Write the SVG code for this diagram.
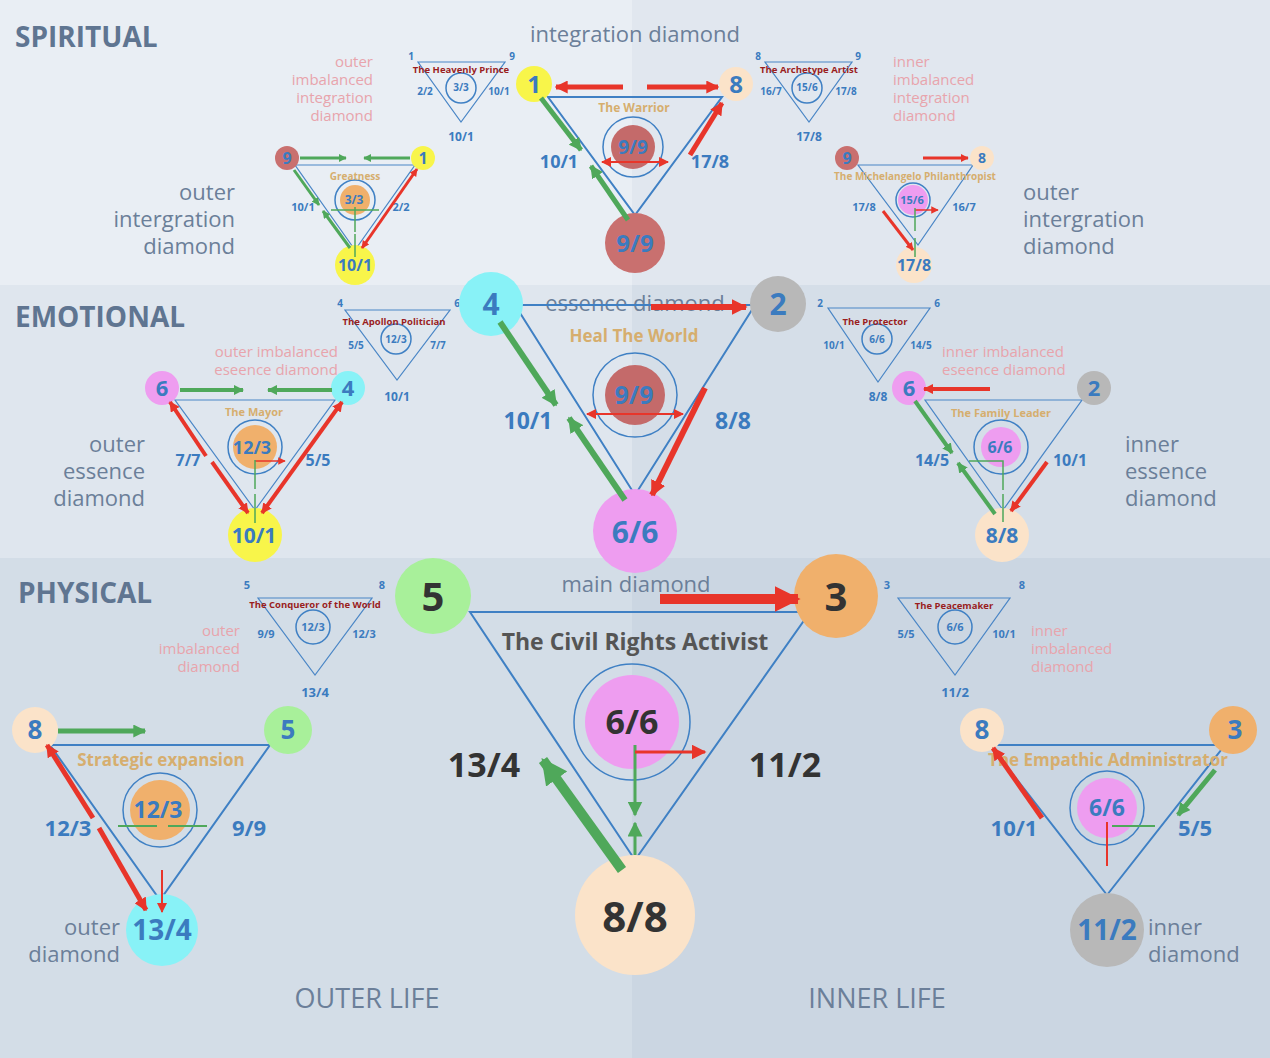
<svg xmlns="http://www.w3.org/2000/svg" width="1270" height="1058" viewBox="0 0 1270 1058">
<defs>
<marker id="ar" viewBox="0 0 10 10" refX="9" refY="5" markerWidth="2.6" markerHeight="2.6" orient="auto-start-reverse"><path d="M0 0L10 5L0 10z" fill="#e8352a"/></marker>
<marker id="ag" viewBox="0 0 10 10" refX="9" refY="5" markerWidth="2.6" markerHeight="2.6" orient="auto-start-reverse"><path d="M0 0L10 5L0 10z" fill="#4fa85a"/></marker>
<marker id="ar2" viewBox="0 0 10 10" refX="9" refY="5" markerWidth="5" markerHeight="5" orient="auto-start-reverse"><path d="M0 0L10 5L0 10z" fill="#e8352a"/></marker>
<marker id="ag2" viewBox="0 0 10 10" refX="9" refY="5" markerWidth="5" markerHeight="5" orient="auto-start-reverse"><path d="M0 0L10 5L0 10z" fill="#4fa85a"/></marker>
<style>
text{font-family:"Open Sans","Noto Sans",sans-serif}
.tri{fill:none;stroke:#3f80c4;stroke-width:2}
.tris{fill:none;stroke:#4a86c6;stroke-width:1.2}
.ring{fill:none;stroke:#3f80c4;stroke-width:1.5}
.n{fill:#3b7bbf;font-weight:bold;text-anchor:middle}
.nd{fill:#333;font-weight:bold;text-anchor:middle}
.t{fill:#d6ae6e;font-weight:bold;text-anchor:middle}
.pt{fill:#9a1e1e;font-weight:bold;text-anchor:middle;font-size:9.5px}
.g{fill:#6b7f99}
.sec{fill:#5f7591;font-weight:bold;font-size:28px}
.pk{fill:#e8a4ac;font-size:15px}
.r{stroke:#e8352a;fill:none}
.gr{stroke:#4fa85a;fill:none}
</style>
</defs>
<rect x="0" y="0" width="632" height="285" fill="#e9eef4"/>
<rect x="632" y="0" width="638" height="285" fill="#e1e7ef"/>
<rect x="0" y="285" width="632" height="273" fill="#dfe6ee"/>
<rect x="632" y="285" width="638" height="273" fill="#d5dee8"/>
<rect x="0" y="558" width="632" height="500" fill="#d3dde7"/>
<rect x="632" y="558" width="638" height="500" fill="#cbd6e2"/>

<g id="labels">
<text class="sec" x="15" y="47">SPIRITUAL</text>
<text class="sec" x="15" y="327">EMOTIONAL</text>
<text class="sec" x="18" y="603">PHYSICAL</text>
<text class="g" x="635" y="42" font-size="22" text-anchor="middle">integration diamond</text>
<text class="g" x="635" y="311" font-size="22" text-anchor="middle">essence diamond</text>
<text class="g" x="636" y="592" font-size="22" text-anchor="middle">main diamond</text>
<text class="g" font-size="22" text-anchor="end"><tspan x="235" y="200">outer</tspan><tspan x="235" y="227">intergration</tspan><tspan x="235" y="254">diamond</tspan></text>
<text class="g" font-size="22"><tspan x="1023" y="200">outer</tspan><tspan x="1023" y="227">intergration</tspan><tspan x="1023" y="254">diamond</tspan></text>
<text class="g" font-size="22" text-anchor="end"><tspan x="145" y="452">outer</tspan><tspan x="145" y="479">essence</tspan><tspan x="145" y="506">diamond</tspan></text>
<text class="g" font-size="22"><tspan x="1125" y="452">inner</tspan><tspan x="1125" y="479">essence</tspan><tspan x="1125" y="506">diamond</tspan></text>
<text class="g" font-size="22" text-anchor="end"><tspan x="120" y="935">outer</tspan><tspan x="120" y="962">diamond</tspan></text>
<text class="g" font-size="22"><tspan x="1148" y="935">inner</tspan><tspan x="1148" y="962">diamond</tspan></text>
<text class="g" x="367" y="1008" font-size="27" text-anchor="middle">OUTER LIFE</text>
<text class="g" x="877" y="1008" font-size="27" text-anchor="middle">INNER LIFE</text>
<text class="pk" text-anchor="end"><tspan x="373" y="67">outer</tspan><tspan x="373" y="85">imbalanced</tspan><tspan x="373" y="103">integration</tspan><tspan x="373" y="121">diamond</tspan></text>
<text class="pk"><tspan x="893" y="67">inner</tspan><tspan x="893" y="85">imbalanced</tspan><tspan x="893" y="103">integration</tspan><tspan x="893" y="121">diamond</tspan></text>
<text class="pk" text-anchor="end"><tspan x="338" y="357">outer imbalanced</tspan><tspan x="338" y="375">eseence diamond</tspan></text>
<text class="pk"><tspan x="942" y="357">inner imbalanced</tspan><tspan x="942" y="375">eseence diamond</tspan></text>
<text class="pk" text-anchor="end"><tspan x="240" y="636">outer</tspan><tspan x="240" y="654">imbalanced</tspan><tspan x="240" y="672">diamond</tspan></text>
<text class="pk"><tspan x="1031" y="636">inner</tspan><tspan x="1031" y="654">imbalanced</tspan><tspan x="1031" y="672">diamond</tspan></text>
</g>

<!-- small imbalanced diagrams -->
<g id="heavenly-prince"><path class="tris" d="M418 62H505L461 122Z"/><circle class="ring" cx="461" cy="88" r="15"/><text class="pt" x="461" y="73">The Heavenly Prince</text>
<g class="n" font-size="10"><text x="411" y="60">1</text><text x="512" y="60">9</text><text x="425" y="95">2/2</text><text x="499" y="95">10/1</text><text x="461" y="91">3/3</text><text x="461" y="141" font-size="12">10/1</text></g></g>
<g id="archetype-artist"><path class="tris" d="M765 62H852L809 122Z"/><circle class="ring" cx="807" cy="88" r="15"/><text class="pt" x="809" y="73">The Archetype Artist</text>
<g class="n" font-size="10"><text x="758" y="60">8</text><text x="858" y="60">9</text><text x="771" y="95">16/7</text><text x="846" y="95">17/8</text><text x="807" y="91">15/6</text><text x="809" y="141" font-size="12">17/8</text></g></g>
<g id="apollon"><path class="tris" d="M345 310H450L397 380Z"/><circle class="ring" cx="396" cy="339" r="15"/><text class="pt" x="394" y="325">The Apollon Politician</text>
<g class="n" font-size="10"><text x="340" y="307">4</text><text x="457" y="307">6</text><text x="356" y="349">5/5</text><text x="438" y="349">7/7</text><text x="396" y="343">12/3</text><text x="397" y="401" font-size="12">10/1</text></g></g>
<g id="protector"><path class="tris" d="M828 308H930L878 382Z"/><circle class="ring" cx="877" cy="339" r="15"/><text class="pt" x="875" y="325">The Protector</text>
<g class="n" font-size="10"><text x="820" y="307">2</text><text x="937" y="307">6</text><text x="834" y="349">10/1</text><text x="921" y="349">14/5</text><text x="877" y="343">6/6</text><text x="878" y="401" font-size="12">8/8</text></g></g>
<g id="conqueror"><path class="tris" d="M258 598H372L315 675Z"/><circle class="ring" cx="313" cy="627" r="17"/><text class="pt" x="315" y="608">The Conqueror of the World</text>
<g class="n" font-size="11"><text x="247" y="589">5</text><text x="382" y="589">8</text><text x="266" y="638">9/9</text><text x="364" y="638">12/3</text><text x="313" y="631">12/3</text><text x="315" y="697" font-size="13">13/4</text></g></g>
<g id="peacemaker"><path class="tris" d="M898 598H1010L955 675Z"/><circle class="ring" cx="955" cy="627" r="17"/><text class="pt" x="954" y="609">The Peacemaker</text>
<g class="n" font-size="11"><text x="887" y="589">3</text><text x="1022" y="589">8</text><text x="906" y="638">5/5</text><text x="1004" y="638">10/1</text><text x="955" y="631">6/6</text><text x="955" y="697" font-size="13">11/2</text></g></g>

<!-- Warrior -->
<g id="warrior">
<path class="tri" d="M548 97H722L635 215Z"/>
<circle cx="633" cy="147" r="30" class="ring"/><circle cx="633" cy="147" r="22" fill="#c46a6a"/>
<text class="t" x="634" y="112" font-size="12">The Warrior</text>
<circle cx="534" cy="84" r="18" fill="#f8f54a"/><text class="n" x="534" y="93" font-size="24">1</text>
<circle cx="736" cy="84" r="17" fill="#fbe3c9"/><text class="n" x="736" y="93" font-size="24">8</text>
<circle cx="635" cy="243" r="30" fill="#c9706f"/><text class="n" x="635" y="252" font-size="24">9/9</text>
<text class="n" x="633" y="154" font-size="19">9/9</text>
<text class="n" x="559" y="168" font-size="18">10/1</text><text class="n" x="710" y="168" font-size="18">17/8</text>
</g>
<!-- Greatness -->
<g id="greatness">
<path class="tris" d="M295 165H415L355 250Z"/>
<circle cx="355" cy="200" r="20" class="ring"/><circle cx="355" cy="200" r="15" fill="#f0b06c"/>
<text class="t" x="355" y="180" font-size="10">Greatness</text>
<circle cx="287" cy="158" r="12" fill="#c9706f"/><text class="n" x="287" y="164" font-size="16">9</text>
<circle cx="423" cy="158" r="12" fill="#f8f54a"/><text class="n" x="423" y="164" font-size="16">1</text>
<circle cx="355" cy="265" r="20" fill="#f8f54a"/><text class="n" x="355" y="271" font-size="16">10/1</text>
<text class="n" x="354" y="204" font-size="12">3/3</text>
<text class="n" x="303" y="211" font-size="11">10/1</text><text class="n" x="401" y="211" font-size="11">2/2</text>
</g>
<!-- Michelangelo -->
<g id="michelangelo">
<path class="tris" d="M858 165H973L918 245Z"/>
<circle cx="913" cy="200" r="17" class="ring"/><circle cx="913" cy="200" r="15" fill="#ee9df0"/>
<text class="t" x="915" y="180" font-size="10">The Michelangelo Philanthropist</text>
<circle cx="847" cy="158" r="12" fill="#c9706f"/><text class="n" x="847" y="164" font-size="16">9</text>
<circle cx="982" cy="158" r="12" fill="#fbe3c9"/><text class="n" x="982" y="163" font-size="14">8</text>
<circle cx="914" cy="265" r="18" fill="#fbe3c9"/><text class="n" x="914" y="271" font-size="16">17/8</text>
<text class="n" x="912" y="204" font-size="11">15/6</text>
<text class="n" x="864" y="211" font-size="11">17/8</text><text class="n" x="964" y="211" font-size="11">16/7</text>
</g>
<!-- Heal the world -->
<g id="heal-the-world">
<path class="tri" d="M515 305H755L635 495Z"/>
<circle cx="635" cy="395" r="42" class="ring"/><circle cx="635" cy="395" r="30" fill="#c46a6a"/>
<text class="t" x="634" y="342" font-size="17">Heal The World</text>
<circle cx="491" cy="304" r="32" fill="#88f2f7"/><text class="n" x="491" y="315" font-size="30">4</text>
<circle cx="778" cy="304" r="28" fill="#b8b8b8"/><text class="n" x="778" y="315" font-size="30">2</text>
<circle cx="635" cy="531" r="42" fill="#ee9df0"/><text class="n" x="635" y="543" font-size="30">6/6</text>
<text class="n" x="634" y="404" font-size="25">9/9</text>
<text class="n" x="528" y="429" font-size="23">10/1</text><text class="n" x="733" y="429" font-size="23">8/8</text>
</g>
<!-- Mayor -->
<g id="mayor">
<path class="tris" d="M175 400H335L255 510Z"/>
<circle cx="255" cy="447" r="27" class="ring"/><circle cx="255" cy="447" r="22" fill="#f0b06c"/>
<text class="t" x="254" y="416" font-size="11">The Mayor</text>
<circle cx="162" cy="388" r="17" fill="#ee9df0"/><text class="n" x="162" y="396" font-size="22">6</text>
<circle cx="348" cy="388" r="17" fill="#88f2f7"/><text class="n" x="348" y="396" font-size="22">4</text>
<circle cx="255" cy="535" r="27" fill="#f8f54a"/><text class="n" x="254" y="543" font-size="21">10/1</text>
<text class="n" x="252" y="454" font-size="18">12/3</text>
<text class="n" x="188" y="466" font-size="16">7/7</text><text class="n" x="318" y="466" font-size="16">5/5</text>
</g>
<!-- Family Leader -->
<g id="family-leader">
<path class="tris" d="M925 400H1082L1003 510Z"/>
<circle cx="1001" cy="447" r="27" class="ring"/><circle cx="1001" cy="447" r="20" fill="#ee9df0"/>
<text class="t" x="1001" y="417" font-size="11">The Family Leader</text>
<circle cx="909" cy="388" r="17" fill="#ee9df0"/><text class="n" x="909" y="396" font-size="22">6</text>
<circle cx="1094" cy="388" r="17" fill="#b8b8b8"/><text class="n" x="1094" y="396" font-size="22">2</text>
<circle cx="1002" cy="535" r="27" fill="#fbe3c9"/><text class="n" x="1002" y="543" font-size="21">8/8</text>
<text class="n" x="1000" y="453" font-size="16">6/6</text>
<text class="n" x="932" y="466" font-size="16">14/5</text><text class="n" x="1070" y="466" font-size="16">10/1</text>
</g>
<!-- Civil Rights Activist -->
<g id="civil-rights">
<path class="tri" d="M470 612H810L635 860Z" stroke-width="3"/>
<circle cx="632" cy="722" r="58" class="ring" stroke-width="2"/><circle cx="632" cy="722" r="47" fill="#ee9df0"/>
<text x="635" y="650" font-size="23" font-weight="bold" fill="#555" text-anchor="middle">The Civil Rights Activist</text>
<circle cx="433" cy="596" r="38" fill="#a8f09a"/><text class="nd" x="433" y="611" font-size="40">5</text>
<circle cx="836" cy="596" r="42" fill="#f0b06c"/><text class="nd" x="836" y="611" font-size="40">3</text>
<circle cx="635" cy="915" r="60" fill="#fbe3c9"/><text class="nd" x="635" y="932" font-size="42">8/8</text>
<text class="nd" x="632" y="734" font-size="34">6/6</text>
<text class="nd" x="484" y="777" font-size="34">13/4</text><text class="nd" x="785" y="777" font-size="34">11/2</text>
</g>
<!-- Strategic expansion -->
<g id="strategic">
<path class="tri" d="M50 745H270L160 900Z"/>
<circle cx="160" cy="810" r="37" class="ring"/><circle cx="160" cy="810" r="30" fill="#f0b06c"/>
<text class="t" x="161" y="766" font-size="17">Strategic expansion</text>
<circle cx="35" cy="730" r="23" fill="#fbe3c9"/><text class="n" x="35" y="739" font-size="26">8</text>
<circle cx="288" cy="730" r="24" fill="#a8f09a"/><text class="n" x="288" y="739" font-size="26">5</text>
<circle cx="162" cy="930" r="36" fill="#88f2f7"/><text class="n" x="162" y="940" font-size="28">13/4</text>
<text class="n" x="158" y="818" font-size="23">12/3</text>
<text class="n" x="68" y="836" font-size="22">12/3</text><text class="n" x="249" y="836" font-size="22">9/9</text>
</g>
<!-- Empathic Administrator -->
<g id="empathic">
<path class="tri" d="M990 745H1225L1107 895Z"/>
<circle cx="1107" cy="808" r="37" class="ring"/><circle cx="1107" cy="808" r="30" fill="#ee9df0"/>
<circle cx="982" cy="730" r="22" fill="#fbe3c9"/><text class="n" x="982" y="739" font-size="26">8</text>
<circle cx="1233" cy="730" r="24" fill="#f0b06c"/><text class="n" x="1235" y="739" font-size="26">3</text>
<circle cx="1107" cy="930" r="37" fill="#b8b8b8"/><text class="n" x="1107" y="940" font-size="28">11/2</text>
<text class="t" x="1108" y="766" font-size="17">The Empathic Administrator</text>
<text class="n" x="1107" y="816" font-size="23">6/6</text>
<text class="n" x="1014" y="836" font-size="22">10/1</text><text class="n" x="1195" y="836" font-size="22">5/5</text>
</g>

<g id="connectors">
<!-- warrior -->
<path class="r" stroke-width="5" d="M623 87H556" marker-end="url(#ar)"/>
<path class="r" stroke-width="5" d="M647 87H718" marker-end="url(#ar)"/>
<path class="gr" stroke-width="5" d="M541 98L581 150" marker-end="url(#ag)"/>
<path class="gr" stroke-width="5" d="M628 220L591 166" marker-end="url(#ag)"/>
<path class="r" stroke-width="5" d="M690 155L722 103" marker-end="url(#ar)"/>
<path class="r" stroke-width="2" d="M602 162H668" marker-start="url(#ar2)" marker-end="url(#ar2)"/>
<!-- greatness -->
<path class="gr" stroke-width="3" d="M300 158H346" marker-end="url(#ag)"/>
<path class="gr" stroke-width="3" d="M410 158H364" marker-end="url(#ag)"/>
<path class="gr" stroke-width="3" d="M294 170L319 205" marker-end="url(#ag)"/>
<path class="gr" stroke-width="3" d="M350 248L323 211" marker-end="url(#ag)"/>
<path class="r" stroke-width="3" d="M362 248L417 169" marker-start="url(#ar)" marker-end="url(#ar)"/>
<path class="gr" stroke-width="1.5" d="M331 210H379M355 207V232M355 234V257"/>
<!-- michelangelo -->
<path class="r" stroke-width="3" d="M923 158H968" marker-end="url(#ar)"/>
<path class="r" stroke-width="3" d="M883 211L913 250" marker-end="url(#ar)"/>
<path class="r" stroke-width="1.5" d="M915 210H938" marker-end="url(#ar2)"/>
<path class="gr" stroke-width="1.5" d="M915 208V231M915 238V257"/>
<!-- heal the world -->
<path class="r" stroke-width="6" d="M651 307H746" marker-end="url(#ar)"/>
<path class="gr" stroke-width="6" d="M500 322L556 405" marker-end="url(#ag)"/>
<path class="gr" stroke-width="6" d="M625 500L569 418" marker-end="url(#ag)"/>
<path class="r" stroke-width="6" d="M705 388L652 495" marker-end="url(#ar)"/>
<path class="r" stroke-width="2" d="M587 414H683" marker-start="url(#ar2)" marker-end="url(#ar2)"/>
<!-- mayor -->
<path class="gr" stroke-width="4" d="M180 390H243" marker-end="url(#ag)"/>
<path class="gr" stroke-width="4" d="M332 390H268" marker-end="url(#ag)"/>
<path class="r" stroke-width="4" d="M206 456L170 402" marker-end="url(#ar)"/>
<path class="r" stroke-width="4" d="M212 462L248 513" marker-end="url(#ar)"/>
<path class="r" stroke-width="4" d="M262 513L342 402" marker-start="url(#ar)" marker-end="url(#ar)"/>
<path class="r" stroke-width="1.5" d="M255 461H285" marker-end="url(#ar2)"/>
<path class="gr" stroke-width="1.5" d="M255 460V489M255 494V523"/>
<!-- family leader -->
<path class="r" stroke-width="4" d="M990 389H924" marker-end="url(#ar)"/>
<path class="gr" stroke-width="4" d="M915 401L952 453" marker-end="url(#ag)"/>
<path class="gr" stroke-width="4" d="M995 514L958 463" marker-end="url(#ag)"/>
<path class="r" stroke-width="4" d="M1047 462L1011 511" marker-end="url(#ar)"/>
<path class="gr" stroke-width="1.5" d="M969 461H1003V490M1003 494V522"/>
<!-- civil rights -->
<path class="r" stroke-width="10" d="M660 599H798" marker-end="url(#ar)"/>
<path class="gr" stroke-width="10" d="M622 870L543 760" marker-end="url(#ag)"/>
<path class="gr" stroke-width="3" d="M635 745V815" marker-end="url(#ag2)"/>
<path class="gr" stroke-width="3" d="M635 855V823" marker-end="url(#ag2)"/>
<path class="r" stroke-width="3" d="M635 752H705" marker-end="url(#ar2)"/>
<!-- strategic -->
<path class="gr" stroke-width="5" d="M58 731H145" marker-end="url(#ag)"/>
<path class="r" stroke-width="5" d="M93 818L47 745" marker-end="url(#ar)"/>
<path class="r" stroke-width="5" d="M99 828L146 910" marker-end="url(#ar)"/>
<path class="gr" stroke-width="2" d="M118 826H157M207 826H168"/>
<path class="r" stroke-width="2" d="M162 870V912" marker-end="url(#ar2)"/>
<!-- empathic -->
<path class="r" stroke-width="5" d="M1042 818L993 748" marker-end="url(#ar)"/>
<path class="gr" stroke-width="5" d="M1215 770L1178 815" marker-end="url(#ag)"/>
<path class="gr" stroke-width="2" d="M1112 826H1155"/>
<path class="r" stroke-width="2" d="M1107 866V822"/>
</g>
</svg>
